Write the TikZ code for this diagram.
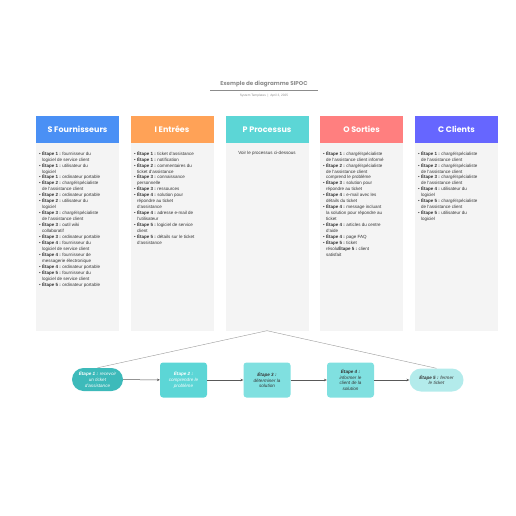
\documentclass[tikz,border=0pt]{standalone}
\usepackage{fontspec}
\setmainfont{Liberation Sans}
\newfontfamily\hdfont{Poppins}
\usetikzlibrary{arrows.meta}
\definecolor{cS}{HTML}{4A90F5}
\definecolor{cI}{HTML}{FFA257}
\definecolor{cP}{HTML}{5CD6D6}
\definecolor{cO}{HTML}{FF7F7F}
\definecolor{cC}{HTML}{6666FF}
\definecolor{bodygray}{HTML}{F4F4F4}
\definecolor{st1}{HTML}{3DBABA}
\definecolor{st2}{HTML}{5CD6D6}
\definecolor{st3}{HTML}{80E0E0}
\definecolor{st5}{HTML}{B3EBEB}
\definecolor{txt}{HTML}{333333}
\newcommand\hind{\hphantom{•\ }}
\newcommand\bl[1]{•\ \textbf{#1}}
\tikzset{
  hdr/.style={fill=#1, draw=none, minimum width=83pt, minimum height=27pt, inner sep=0pt,
     text=white, font=\hdfont\bfseries\fontsize{8}{9}\selectfont},
  colbody/.style={fill=bodygray, draw=none, minimum width=83pt, minimum height=188pt, inner sep=0pt},
  list/.style={anchor=north west, align=left, inner sep=0pt, text=txt, font=\fontsize{4.5}{5.95}\selectfont},
  stepbox/.style={fill=#1, draw=none, rounded corners=3pt, minimum width=47pt, minimum height=35pt,
     inner sep=1pt, align=center, font=\itshape\fontsize{4.6}{5.9}\selectfont},
  pill/.style={fill=#1, draw=none, rounded corners=11.5pt, inner sep=1pt, align=center,
     font=\itshape\fontsize{4.6}{5.9}\selectfont},
  flow/.style={draw=black!65, line width=0.5pt, -{Stealth[length=2.8pt,width=2.6pt]}},
  link/.style={draw=black!40, line width=0.4pt},
}
\begin{document}
\begin{tikzpicture}[x=1pt,y=-1pt]
\useasboundingbox (0,0) rectangle (516,516);
% title
\node[font=\hdfont\bfseries\fontsize{5.6}{7}\selectfont, text=black!45] (title) at (264,84.5) {Exemple de diagramme SIPOC};
\coordinate (tl1) at (210,90.5);
\coordinate (tl2) at (318,90.5);
\draw[black!45, line width=0.5pt] (tl1) -- (tl2);
\node[font=\fontsize{3.2}{4}\selectfont, text=black!45] (sub) at (264,95.5) {System Templates \ | \ April 3, 2025};
% columns
\foreach \n/\x/\c/\t in {S/77.5/cS/S Fournisseurs, I/172/cI/I Entrées, P/267/cP/P Processus, O/361.5/cO/O Sorties, C/456.5/cC/C Clients}{
  \node[colbody] (b\n) at (\x,236.5) {};
  \node[hdr=\c] (h\n) at (\x,129.5) {\t};
}
\node[list] (lS) at (39,151) {\bl{Étape 1 :} fournisseur du\\\hind logiciel de service client\\
\bl{Étape 1 :} utilisateur du\\\hind logiciel\\
\bl{Étape 1 :} ordinateur portable\\
\bl{Étape 2 :} chargé/spécialiste\\\hind de l'assistance client\\
\bl{Étape 2 :} ordinateur portable\\
\bl{Étape 2 :} utilisateur du\\\hind logiciel\\
\bl{Étape 3 :} chargé/spécialiste\\\hind de l'assistance client\\
\bl{Étape 3 :} outil wiki\\\hind collaboratif\\
\bl{Étape 3 :} ordinateur portable\\
\bl{Étape 4 :} fournisseur du\\\hind logiciel de service client\\
\bl{Étape 4 :} fournisseur de\\\hind messagerie électronique\\
\bl{Étape 4 :} ordinateur portable\\
\bl{Étape 5 :} fournisseur du\\\hind logiciel de service client\\
\bl{Étape 5 :} ordinateur portable};
\node[list] (lI) at (134,151) {\bl{Étape 1 :} ticket d'assistance\\
\bl{Étape 1 :} notification\\
\bl{Étape 2 :} commentaires du\\\hind ticket d'assistance\\
\bl{Étape 3 :} connaissance\\\hind personnelle\\
\bl{Étape 3 :} ressources\\
\bl{Étape 4 :} solution pour\\\hind répondre au ticket\\\hind d'assistance\\
\bl{Étape 4 :} adresse e-mail de\\\hind l'utilisateur\\
\bl{Étape 5 :} logiciel de service\\\hind client\\
\bl{Étape 5 :} détails sur le ticket\\\hind d'assistance};
\node[list, anchor=north] (lP) at (267,151) {Voir le processus ci-dessous};
\node[list] (lO) at (323,151) {\bl{Étape 1 :} chargé/spécialiste\\\hind de l'assistance client informé\\
\bl{Étape 2 :} chargé/spécialiste\\\hind de l'assistance client\\\hind comprend le problème\\
\bl{Étape 3 :} solution pour\\\hind répondre au ticket\\
\bl{Étape 4 :} e-mail avec les\\\hind détails du ticket\\
\bl{Étape 4 :} message incluant\\\hind la solution pour répondre au\\\hind ticket\\
\bl{Étape 4 :} articles du centre\\\hind d'aide\\
\bl{Étape 4 :} page FAQ\\
\bl{Étape 5 :} ticket\\\hind résolu\textbf{Étape 5 :} client\\\hind satisfait};
\node[list] (lC) at (418,151) {\bl{Étape 1 :} chargé/spécialiste\\\hind de l'assistance client\\
\bl{Étape 2 :} chargé/spécialiste\\\hind de l'assistance client\\
\bl{Étape 3 :} chargé/spécialiste\\\hind de l'assistance client\\
\bl{Étape 4 :} utilisateur du\\\hind logiciel\\
\bl{Étape 5 :} chargé/spécialiste\\\hind de l'assistance client\\
\bl{Étape 5 :} utilisateur du\\\hind logiciel};
% process
\node[pill=st1, text=white, minimum width=51pt, minimum height=23pt] (s1) at (97.5,379.5) {\textbf{Étape 1 :} recevoir\\un ticket\\d'assistance};
\node[stepbox=st2, text=white] (s2) at (183.5,380) {\textbf{Étape 2 :}\\comprendre le\\problème};
\node[stepbox=st3, text=txt] (s3) at (267,380) {\textbf{Étape 3 :}\\déterminer la\\solution};
\node[stepbox=st3, text=txt] (s4) at (350.5,380) {\textbf{Étape 4 :}\\informer le\\client de la\\solution};
\node[pill=st5, text=txt, minimum width=54pt, minimum height=23pt] (s5) at (436.5,380) {\textbf{Étape 5 :} fermer\\le ticket};
\draw[flow] (s1) -- (s2);
\draw[flow] (s2) -- (s3);
\draw[flow] (s3) -- (s4);
\draw[flow] (s4) -- (s5);
\draw[link] (s1.north) -- (bP.south) -- (s5.north);
\end{tikzpicture}
\end{document}
